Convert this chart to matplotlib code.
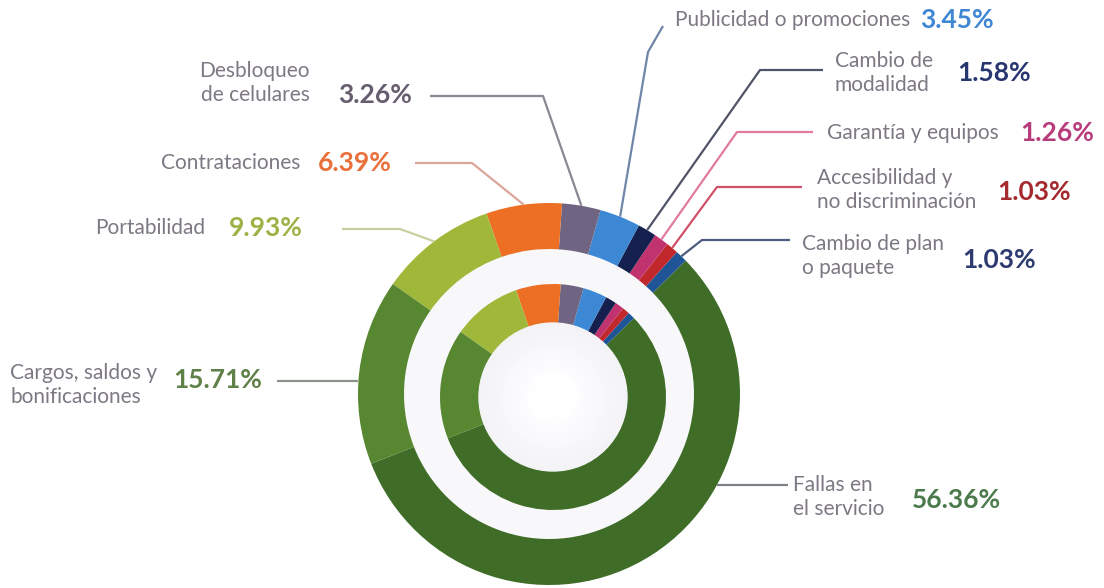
import matplotlib
matplotlib.use('Agg')
import matplotlib.pyplot as plt
import numpy as np

plt.rcParams['font.family'] = ['Lato', 'DejaVu Sans']

# Data (counter-clockwise order, starting at the Cargos/Fallas boundary)
categories = ['Fallas en\nel servicio', 'Cambio de plan\no paquete', 'Accesibilidad y\nno discriminación',
              'Garantía y equipos', 'Cambio de\nmodalidad', 'Publicidad o promociones',
              'Desbloqueo\nde celulares', 'Contrataciones', 'Portabilidad',
              'Cargos, saldos y\nbonificaciones']
shares = [56.36, 1.03, 1.03, 1.26, 1.58, 3.45, 3.26, 6.39, 9.93, 15.71]

wedge_colors = ['#3f6d27', '#1f5596', '#c0282c', '#c0336f', '#16204f', '#3c88d4',
                '#6f6582', '#ec6f23', '#a0b83a', '#578731']
pct_colors = ['#4b7a4c', '#2d3b70', '#a52a2f', '#b83b7c', '#283670', '#3f86d4',
              '#665d6e', '#e9703a', '#9cb245', '#5f8148']
line_colors = ['#7d8085', '#4d5d80', '#d0506a', '#e07aa0', '#505468', '#6f86a8',
               '#8c8594', '#dba59a', '#c9d0a0', '#8a9488']

# layout in image pixels (y from top)
H = 588
label_pos = [(793, 497, 'left'), (802, 256, 'left'), (817, 190, 'left'), (827, 133, 'left'),
             (835, 73, 'left'), (910, 20, 'right'), (310, 83, 'right'), (300, 163, 'right'),
             (205, 228, 'right'), (10, 385, 'left')]
pct_pos = [(912, 500), (962, 260), (997, 192), (1020, 133), (957, 73), (920, 20),
           (338, 95), (318, 163), (229, 228), (173, 380)]
# leader polylines: text end -> elbow ; single point means horizontal to ring
leaders = [[(788, 485)], [(790, 240), (702, 240)], [(802, 187), (717, 187)],
           [(813, 132), (737, 132)], [(823, 70), (760, 70)], [(663, 26), (648, 52)],
           [(430, 96), (543, 96)], [(415, 163), (472, 163)], [(342, 229), (400, 229)],
           [(277, 381)]]

fig = plt.figure(figsize=(11.04, 5.88), dpi=100)
ax = fig.add_axes([0, 0, 1, 1])

cx, cy, R = 549, H - 394, 191
icx, icy, iR = 553, H - 397, 113

# background discs / soft gradient
ax.add_patch(plt.Circle((cx, cy), 146, color='#f8f7fa', zorder=0))
for r, c in zip(np.linspace(74, 20, 10), np.linspace(0.955, 1.0, 10)):
    ax.add_patch(plt.Circle((icx, icy), r, color=(c, c, min(1, c + 0.015)), zorder=3))

wedges, _ = ax.pie(shares, colors=wedge_colors, radius=R, center=(cx, cy), startangle=201.4,
                   counterclock=True, wedgeprops=dict(width=46, edgecolor='none'))
ax.pie(shares, colors=wedge_colors, radius=iR, center=(icx, icy), startangle=201.4,
       counterclock=True, wedgeprops=dict(width=40, edgecolor='none'))

for i, w in enumerate(wedges):
    pts = [(x, H - y) for x, y in leaders[i]]
    if len(pts) == 1:
        # horizontal line to the ring edge
        y0 = pts[0][1]
        dx = np.sqrt(R ** 2 - (y0 - cy) ** 2)
        xe = cx + dx if pts[0][0] > cx else cx - dx
        pts.append((xe, y0))
    else:
        mid = np.deg2rad((w.theta1 + w.theta2) / 2)
        pts.append((cx + R * np.cos(mid), cy + R * np.sin(mid)))
    xs, ys = zip(*pts)
    ax.plot(xs, ys, color=line_colors[i], lw=1.6, zorder=1, solid_capstyle='butt')

    lx, ly, ha = label_pos[i]
    ax.text(lx, H - ly, categories[i], ha=ha, va='center', fontsize=15, color='#7d7883',
            linespacing=1.25)
    px, py = pct_pos[i]
    ax.text(px, H - py, f'{shares[i]:.2f}%', ha='left', va='center', fontsize=19,
            fontweight='bold', color=pct_colors[i])

ax.set_xlim(0, 1104)
ax.set_ylim(0, H)
ax.set_aspect('equal')
ax.axis('off')

fig.savefig('out.png', dpi=100, facecolor='white')
